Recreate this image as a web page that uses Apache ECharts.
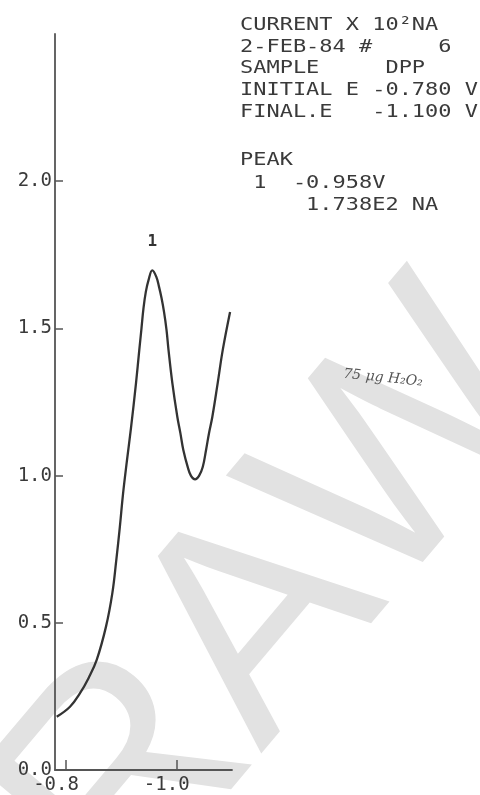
<!DOCTYPE html>
<html>
<head>
<meta charset="utf-8">
<script src="https://cdn.jsdelivr.net/npm/echarts@6/dist/echarts.min.js"></script>
<style>html,body{margin:0;padding:0;background:#fff}#c{width:480px;height:795px}</style>
</head>
<body>
<div id="c"></div>
<script>
// Potential (V) and current (x10^2 nA)
var potentials = [-0.7831, -0.8071, -0.8252, -0.8406, -0.8554, -0.8722, -0.8836, -0.8908, -0.8972, -0.9030,
  -0.9100, -0.9174, -0.9265, -0.9324, -0.9364, -0.9400, -0.9442, -0.9491, -0.9559, -0.9632,
  -0.9681, -0.9726, -0.9771, -0.9816, -0.9852, -0.9921, -1.0012, -1.0066, -1.0120, -1.0200,
  -1.0259, -1.0332, -1.0404, -1.0471, -1.0531, -1.0585, -1.0644, -1.0742, -1.0833, -1.0965];
var currents = [0.181, 0.215, 0.261, 0.312, 0.374, 0.487, 0.600, 0.713, 0.825, 0.938,
  1.050, 1.162, 1.315, 1.427, 1.501, 1.569, 1.624, 1.664, 1.697, 1.675,
  1.641, 1.603, 1.556, 1.495, 1.427, 1.315, 1.199, 1.145, 1.087, 1.029,
  0.999, 0.987, 0.999, 1.029, 1.087, 1.145, 1.199, 1.315, 1.427, 1.556];
var peakIndex = 18;
var peakLabel = '1';
var xTicks = [-0.8, -1.0];
var yTicks = [0, 0.5, 1.0, 1.5, 2.0];
var infoLines = [
  'CURRENT X 10\u00b2NA',
  '2-FEB-84 #     6',
  'SAMPLE     DPP',
  'INITIAL E -0.780 V',
  'FINAL.E   -1.100 V',
  'PEAK',
  ' 1  -0.958V',
  '     1.738E2 NA'
];
var infoY = [25, 47, 68, 90, 112, 160, 183, 205];
var note = '75 \u03bcg H\u2082O\u2082';

var data = potentials.map(function (p, i) { return [p, currents[i]]; });

var mono = 'DejaVu Sans Mono';
var textColor = '#3a3a3a';
var graphics = [{
  type: 'text', z: -10, silent: true,
  x: 280, y: 603, rotation: 0.87,
  style: { text: 'RAW', fontFamily: 'Liberation Sans', fontSize: 300, fill: '#e2e2e2', align: 'center', verticalAlign: 'middle' }
}];
infoLines.forEach(function (t, i) {
  graphics.push({
    type: 'text', x: 240, y: infoY[i], scaleX: 1.22, z: 10,
    style: { text: t, fontFamily: mono, fontSize: 18, fill: textColor, align: 'left', verticalAlign: 'middle' }
  });
});
graphics.push({
  type: 'text', x: 383, y: 378, rotation: -0.1, z: 10,
  style: { text: note, fontFamily: 'DejaVu Serif', fontStyle: 'italic', fontSize: 14, fill: '#555', align: 'center', verticalAlign: 'middle' }
});

var chart = echarts.init(document.getElementById('c'));
chart.setOption({
  backgroundColor: '#fff',
  animation: false,
  grid: { left: 55, right: 248, top: 34, bottom: 25, containLabel: false },
  xAxis: {
    type: 'value', min: -1.10, max: -0.78, inverse: true,
    axisLine: { show: true, lineStyle: { color: '#555', width: 1.8 } },
    axisTick: { show: true, inside: true, length: 10, customValues: xTicks, lineStyle: { color: '#555', width: 1.5 } },
    axisLabel: { customValues: xTicks, margin: 6, fontFamily: mono, fontSize: 19, color: textColor,
      padding: [0, 20, 0, 0], formatter: function (v) { return v.toFixed(1); } },
    splitLine: { show: false }
  },
  yAxis: {
    type: 'value', min: 0, max: 2.5, interval: 0.5,
    axisLine: { show: true, lineStyle: { color: '#555', width: 1.8 } },
    axisTick: { show: true, inside: true, length: 8, customValues: yTicks, lineStyle: { color: '#555', width: 1.5 } },
    axisLabel: { customValues: yTicks, margin: 3, fontFamily: mono, fontSize: 19, color: textColor,
      formatter: function (v) { return v.toFixed(1); } },
    splitLine: { show: false }
  },
  series: [{
    type: 'line', data: data, smooth: 0.4, showSymbol: false, symbol: 'none', z: 5,
    lineStyle: { color: '#333', width: 2.3 },
    markPoint: {
      symbol: 'circle', symbolSize: 1, silent: true,
      itemStyle: { color: 'rgba(0,0,0,0)' },
      label: { show: true, position: 'top', distance: 20, formatter: peakLabel,
        fontFamily: mono, fontSize: 16, fontWeight: 'bold', color: '#333' },
      data: [{ coord: [potentials[peakIndex], currents[peakIndex]] }]
    }
  }],
  graphic: graphics
});
</script>
</body>
</html>
